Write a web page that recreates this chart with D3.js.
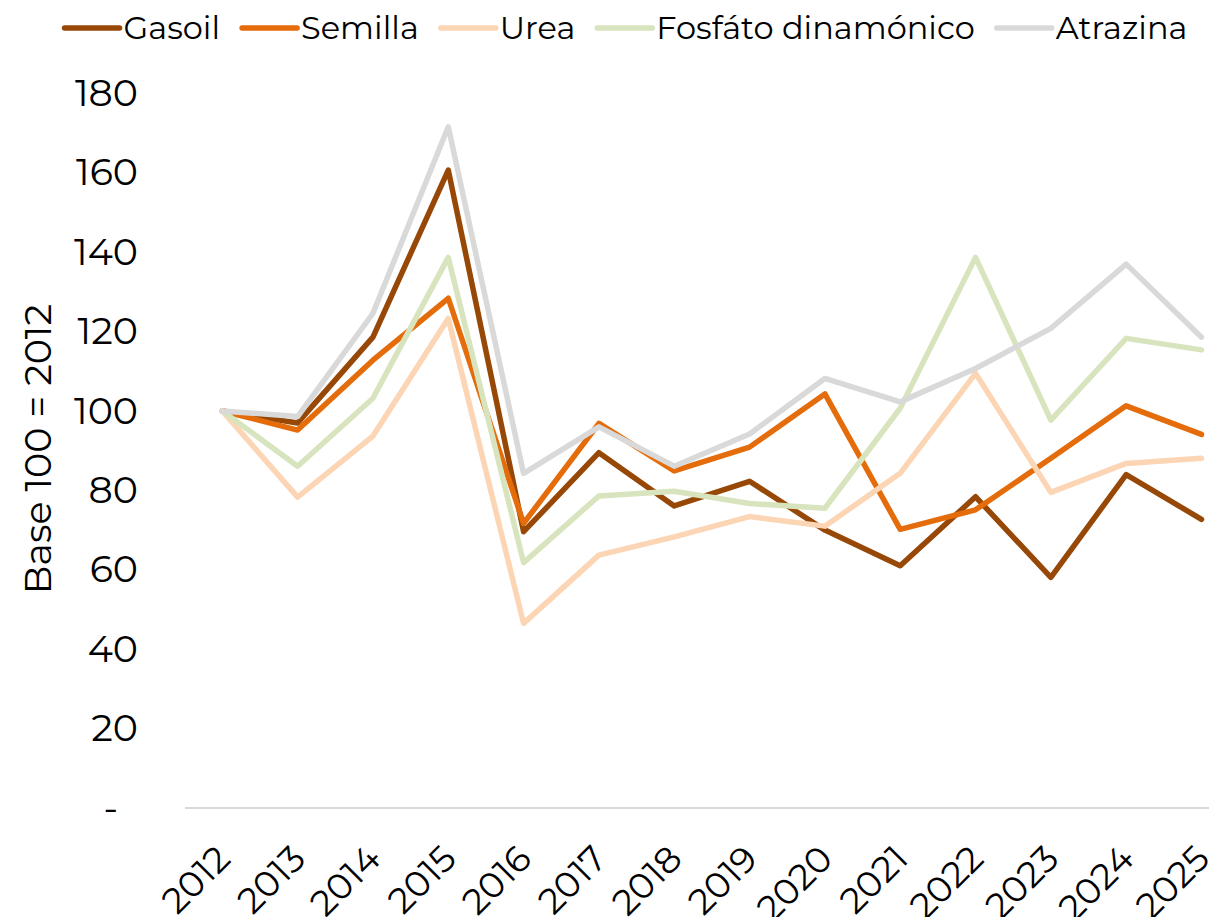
<!DOCTYPE html>
<html lang="es">

<head>
    <meta charset="UTF-8">
    <title>Base 100 = 2012</title>
    <script src="https://d3js.org/d3.v7.min.js"></script>
    <style>
        body {
            margin: 0;
            background: #fff;
        }

        svg text {
            font-family: Montserrat, "DejaVu Sans", sans-serif;
            font-size: 32px;
            fill: #000;
        }
    </style>
</head>

<body>
    <div id="chart"></div>

    <script>
        // Data (index, base 100 = 2012)
        const years = ["2012", "2013", "2014", "2015", "2016", "2017", "2018", "2019", "2020", "2021", "2022", "2023", "2024", "2025"];
        const gasoil = [100, 97.0, 118.6, 160.7, 69.6, 89.5, 76.1, 82.3, 70.0, 61.0, 78.4, 58.1, 84.0, 72.7];
        const semilla = [100, 95.2, 112.8, 128.4, 71.7, 96.9, 84.9, 90.9, 104.3, 70.2, 75.1, 88.1, 101.3, 94.1];
        const urea = [100, 78.3, 93.7, 123.3, 46.5, 63.7, 68.3, 73.4, 71.0, 84.3, 109.5, 79.5, 86.8, 88.1];
        const fosfato = [100, 86.1, 103.2, 138.7, 61.8, 78.6, 79.8, 76.7, 75.5, 100.7, 138.7, 97.7, 118.3, 115.4];
        const atrazina = [100, 98.6, 124.6, 171.6, 84.3, 96.0, 86.1, 94.2, 108.2, 102.3, 110.7, 120.8, 137.0, 118.6];
        const yTicks = [0, 20, 40, 60, 80, 100, 120, 140, 160, 180];

        const seriesNames = ["Gasoil", "Semilla", "Urea", "Fosfáto dinamónico", "Atrazina"];
        const seriesValues = [gasoil, semilla, urea, fosfato, atrazina];
        const colors = ["#974806", "#E46C0A", "#FCD5B5", "#D7E4BD", "#D9D9D9"];

        const width = 1209, height = 917;

        const svg = d3.select("#chart")
            .append("svg")
            .attr("width", width)
            .attr("height", height);

        const x = d3.scalePoint()
            .domain(years)
            .range([222.3, 1201.5]);

        const y = d3.scaleLinear()
            .domain([0, 180])
            .range([808, 93.4]);

        // y axis (no line, no ticks; zero shown as "-")
        const yAxis = svg.append("g")
            .attr("transform", "translate(185,0)")
            .call(d3.axisLeft(y).tickValues(yTicks).tickSize(0).tickPadding(47)
                .tickFormat(d => d === 0 ? "-" : d));
        yAxis.select(".domain").remove();
        yAxis.selectAll("text")
            .attr("fill", "#000")
            .style("font-size", "38px")
            .filter(d => d === 0)
            .attr("x", -67);

        // x axis line
        svg.append("line")
            .attr("x1", 185)
            .attr("x2", width)
            .attr("y1", y(0))
            .attr("y2", y(0))
            .attr("stroke", "#D9D9D9")
            .attr("stroke-width", 2);

        // x labels, rotated
        svg.append("g")
            .selectAll("text")
            .data(years)
            .enter()
            .append("text")
            .attr("transform", d => `translate(${x(d) + 1},852) rotate(-45)`)
            .attr("text-anchor", "end")
            .attr("dy", "0.35em")
            .style("font-size", "36px")
            .text(d => d);

        // y axis title
        svg.append("text")
            .attr("transform", "translate(38,449) rotate(-90)")
            .attr("text-anchor", "middle")
            .attr("dy", "0.35em")
            .style("font-size", "38px")
            .text("Base 100 = 2012");

        // lines
        const line = d3.line()
            .x((d, i) => x(years[i]))
            .y(d => y(d));

        svg.append("g")
            .selectAll("path")
            .data(seriesValues)
            .enter()
            .append("path")
            .attr("d", line)
            .attr("fill", "none")
            .attr("stroke", (d, i) => colors[i])
            .attr("stroke-width", 5.5)
            .attr("stroke-linejoin", "round")
            .attr("stroke-linecap", "round");

        // legend, centred over the chart
        const legend = svg.append("g");
        const items = legend.selectAll("g")
            .data(seriesNames)
            .enter()
            .append("g");

        items.append("line")
            .attr("x1", 0)
            .attr("x2", 55)
            .attr("y1", 28)
            .attr("y2", 28)
            .attr("stroke", (d, i) => colors[i])
            .attr("stroke-width", 5.5)
            .attr("stroke-linecap", "round");

        items.append("text")
            .attr("x", 59)
            .attr("y", 28)
            .attr("dy", "0.35em")
            .text(d => d);

        let offset = 0;
        items.each(function () {
            const w = 59 + this.querySelector("text").getComputedTextLength();
            d3.select(this).attr("transform", `translate(${offset},0)`);
            offset += w + 22;
        });
        const total = offset - 22;
        legend.attr("transform", `translate(${626 - total / 2},0)`);
    </script>
</body>

</html>
